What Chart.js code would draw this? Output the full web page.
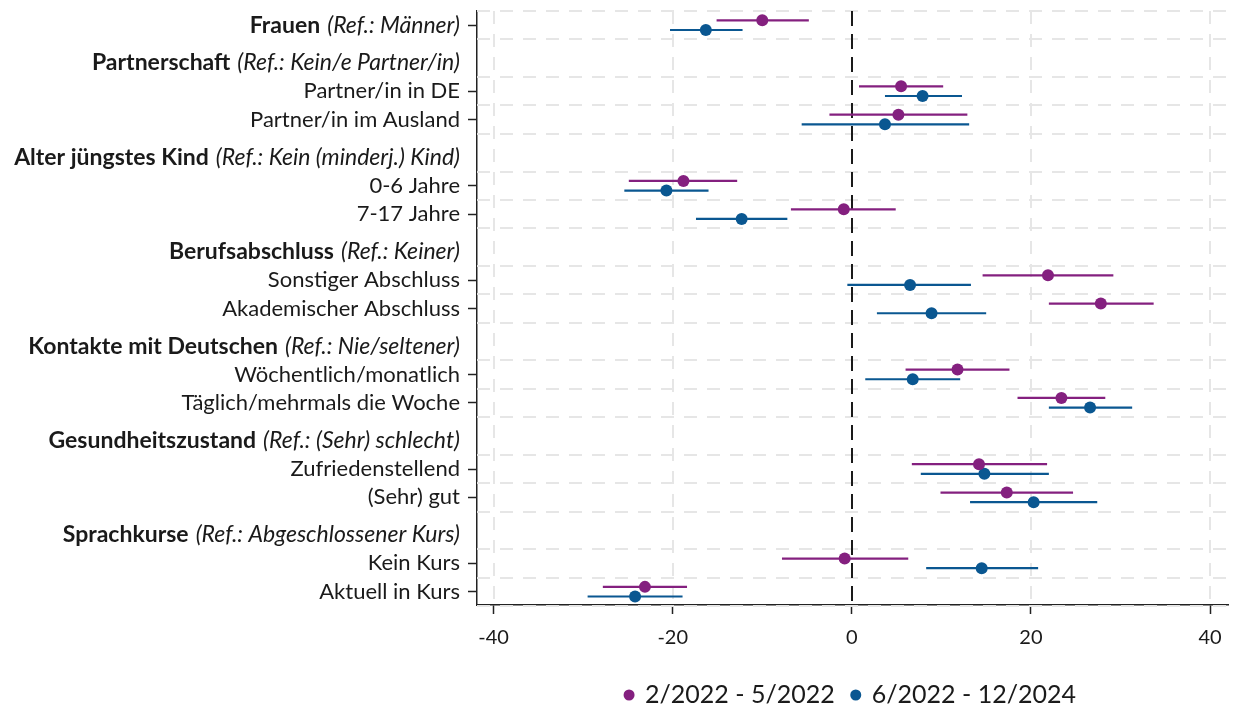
<!DOCTYPE html>
<html>
<head>
<meta charset="utf-8">
<script src="https://cdn.jsdelivr.net/npm/chart.js@4/dist/chart.umd.min.js"></script>
<style>
  body { margin: 0; background: #ffffff; }
</style>
</head>
<body>
<canvas id="chart" width="1234" height="710"></canvas>
<script>
// Row labels (coefficients) and their vertical positions
var labels = ['Frauen', 'Partner/in in DE', 'Partner/in im Ausland', '0-6 Jahre', '7-17 Jahre',
    'Sonstiger Abschluss', 'Akademischer Abschluss', 'Wöchentlich/monatlich', 'Täglich/mehrmals die Woche',
    'Zufriedenstellend', '(Sehr) gut', 'Kein Kurs', 'Aktuell in Kurs'];
var rowPos = [0, 2.33, 3.33, 5.67, 6.67, 9, 10, 12.33, 13.33, 15.67, 16.67, 19, 20];
// Frauen is shown like a header, with its own reference group
var frauenRef = '(Ref.: Männer)';

// Group headers
var headers = ['Partnerschaft', 'Alter jüngstes Kind', 'Berufsabschluss', 'Kontakte mit Deutschen',
    'Gesundheitszustand', 'Sprachkurse'];
var headerRefs = ['(Ref.: Kein/e Partner/in)', '(Ref.: Kein (minderj.) Kind)', '(Ref.: Keiner)',
    '(Ref.: Nie/seltener)', '(Ref.: (Sehr) schlecht)', '(Ref.: Abgeschlossener Kurs)'];
var headerPos = [1.33, 4.67, 8, 11.33, 14.67, 18];

// Series 1: 2/2022 - 5/2022
var coefA = [-10.0, 5.5, 5.2, -18.8, -0.9, 21.9, 27.8, 11.8, 23.4, 14.2, 17.3, -0.8, -23.1];
var lowA  = [-15.1, 0.8, -2.5, -24.9, -6.8, 14.6, 22.0, 6.0, 18.5, 6.7, 9.9, -7.8, -27.8];
var highA = [-4.8, 10.2, 12.9, -12.8, 4.9, 29.2, 33.7, 17.6, 28.3, 21.8, 24.7, 6.3, -18.4];

// Series 2: 6/2022 - 12/2024
var coefB = [-16.3, 7.9, 3.7, -20.7, -12.3, 6.5, 8.9, 6.8, 26.6, 14.8, 20.3, 14.5, -24.2];
var lowB  = [-20.3, 3.7, -5.6, -25.4, -17.4, -0.5, 2.8, 1.5, 22.0, 7.7, 13.2, 8.3, -29.5];
var highB = [-12.2, 12.3, 13.1, -16.0, -7.2, 13.3, 15.0, 12.1, 31.3, 22.0, 27.4, 20.8, -18.9];

var xTicks = [-40, -20, 0, 20, 40];
var seriesNames = ['2/2022 - 5/2022', '6/2022 - 12/2024'];
var colors = ['#84207f', '#0a5791'];
var offset = 0.17;

var FONT = 'Lato';
var TEXT = '#1a1a1a';

// Build the point data for one series
function makePoints(coef, shift) {
    return coef.map(function(v, i) {
        return { x: v, y: rowPos[i] + shift };
    });
}

// Draw grid, zero line, confidence intervals, y labels and the legend
var coefPlugin = {
    id: 'coefPlugin',
    beforeDatasetsDraw: function(chart) {
        var ctx = chart.ctx;
        var area = chart.chartArea;
        var xs = chart.scales.x;
        var ys = chart.scales.y;
        ctx.save();
        // horizontal grid lines between rows
        ctx.strokeStyle = '#e6e6e6';
        ctx.lineWidth = 2;
        ctx.setLineDash([13, 10]);
        rowPos.forEach(function(p) {
            [p - 0.5, p + 0.5].forEach(function(g) {
                var y = Math.round(ys.getPixelForValue(g));
                ctx.beginPath();
                ctx.moveTo(area.left, y);
                ctx.lineTo(area.right, y);
                ctx.stroke();
            });
        });
        // vertical grid lines
        xTicks.forEach(function(t) {
            if (t === 0) return;
            var x = Math.round(xs.getPixelForValue(t));
            ctx.beginPath();
            ctx.moveTo(x, area.top);
            ctx.lineTo(x, area.bottom);
            ctx.stroke();
        });
        // reference line at zero
        ctx.strokeStyle = '#1a1a1a';
        ctx.lineWidth = 2;
        ctx.setLineDash([15, 8]);
        var x0 = Math.round(xs.getPixelForValue(0));
        ctx.beginPath();
        ctx.moveTo(x0, area.top);
        ctx.lineTo(x0, area.bottom);
        ctx.stroke();
        // confidence intervals
        ctx.setLineDash([]);
        ctx.lineWidth = 2.2;
        [[lowA, highA, -offset], [lowB, highB, offset]].forEach(function(s, k) {
            ctx.strokeStyle = colors[k];
            s[0].forEach(function(lo, i) {
                var y = ys.getPixelForValue(rowPos[i] + s[2]);
                ctx.beginPath();
                ctx.moveTo(xs.getPixelForValue(lo), y);
                ctx.lineTo(xs.getPixelForValue(s[1][i]), y);
                ctx.stroke();
            });
        });
        ctx.restore();
    },
    afterDraw: function(chart) {
        var ctx = chart.ctx;
        var area = chart.chartArea;
        var ys = chart.scales.y;
        var right = area.left - 17;
        ctx.save();
        ctx.fillStyle = TEXT;
        ctx.textBaseline = 'middle';
        ctx.textAlign = 'right';
        // bold title followed by italic reference group
        function drawHeader(bold, ref, y) {
            ctx.font = 'italic 23px ' + FONT;
            var w = ctx.measureText(ref).width;
            ctx.fillText(ref, right, y);
            ctx.font = 'bold 23px ' + FONT;
            ctx.fillText(bold, right - w - 7, y);
        }
        labels.forEach(function(l, i) {
            var y = ys.getPixelForValue(rowPos[i]);
            if (i === 0) {
                drawHeader(l, frauenRef, y);
            } else {
                ctx.font = '22px ' + FONT;
                ctx.fillText(l, right, y);
            }
        });
        headers.forEach(function(h, i) {
            drawHeader(h, headerRefs[i], ys.getPixelForValue(headerPos[i]));
        });

        // legend, centred under the plot area
        ctx.font = '25px ' + FONT;
        ctx.textAlign = 'left';
        var widths = seriesNames.map(function(n) { return 16 + ctx.measureText(n).width; });
        var total = widths[0] + widths[1] + 21;
        var lx = (area.left + area.right) / 2 - total / 2;
        var ly = 695;
        seriesNames.forEach(function(n, k) {
            ctx.fillStyle = colors[k];
            ctx.beginPath();
            ctx.arc(lx, ly, 5.5, 0, Math.PI * 2);
            ctx.fill();
            ctx.fillStyle = TEXT;
            ctx.fillText(n, lx + 16, ly);
            lx += widths[k] + 21;
        });
        ctx.restore();
    }
};

var ctx = document.getElementById('chart').getContext('2d');
var myChart = new Chart(ctx, {
    type: 'scatter',
    data: {
        datasets: [{
            label: seriesNames[0],
            data: makePoints(coefA, -offset),
            backgroundColor: colors[0],
            borderWidth: 0,
            pointRadius: 6,
            pointHoverRadius: 6
        }, {
            label: seriesNames[1],
            data: makePoints(coefB, offset),
            backgroundColor: colors[1],
            borderWidth: 0,
            pointRadius: 6,
            pointHoverRadius: 6
        }]
    },
    options: {
        responsive: false,
        animation: false,
        layout: { padding: { top: 11, right: 2, left: 0, bottom: 0 } },
        plugins: {
            tooltip: { enabled: false },
            legend: { display: false }
        },
        scales: {
            x: {
                type: 'linear',
                min: -41.85,
                max: 42,
                afterBuildTicks: function(scale) {
                    scale.ticks = xTicks.map(function(v) { return { value: v }; });
                },
                afterFit: function(scale) {
                    scale.height = 710 - 605;
                },
                grid: { drawOnChartArea: false, tickLength: 9, tickColor: '#222', tickWidth: 1.5 },
                border: { color: '#222', width: 1.5 },
                ticks: { color: TEXT, padding: 12, font: { family: FONT, size: 20 } }
            },
            y: {
                type: 'linear',
                reverse: true,
                min: -0.5,
                max: 20.47,
                afterBuildTicks: function(scale) {
                    scale.ticks = rowPos.map(function(v) { return { value: v }; });
                },
                afterFit: function(scale) {
                    scale.width = 477;
                },
                grid: { drawOnChartArea: false, tickLength: 9, tickColor: '#222', tickWidth: 1.5 },
                border: { color: '#222', width: 1.5 },
                ticks: { display: false }
            }
        }
    },
    plugins: [coefPlugin]
});
</script>
</body>
</html>
